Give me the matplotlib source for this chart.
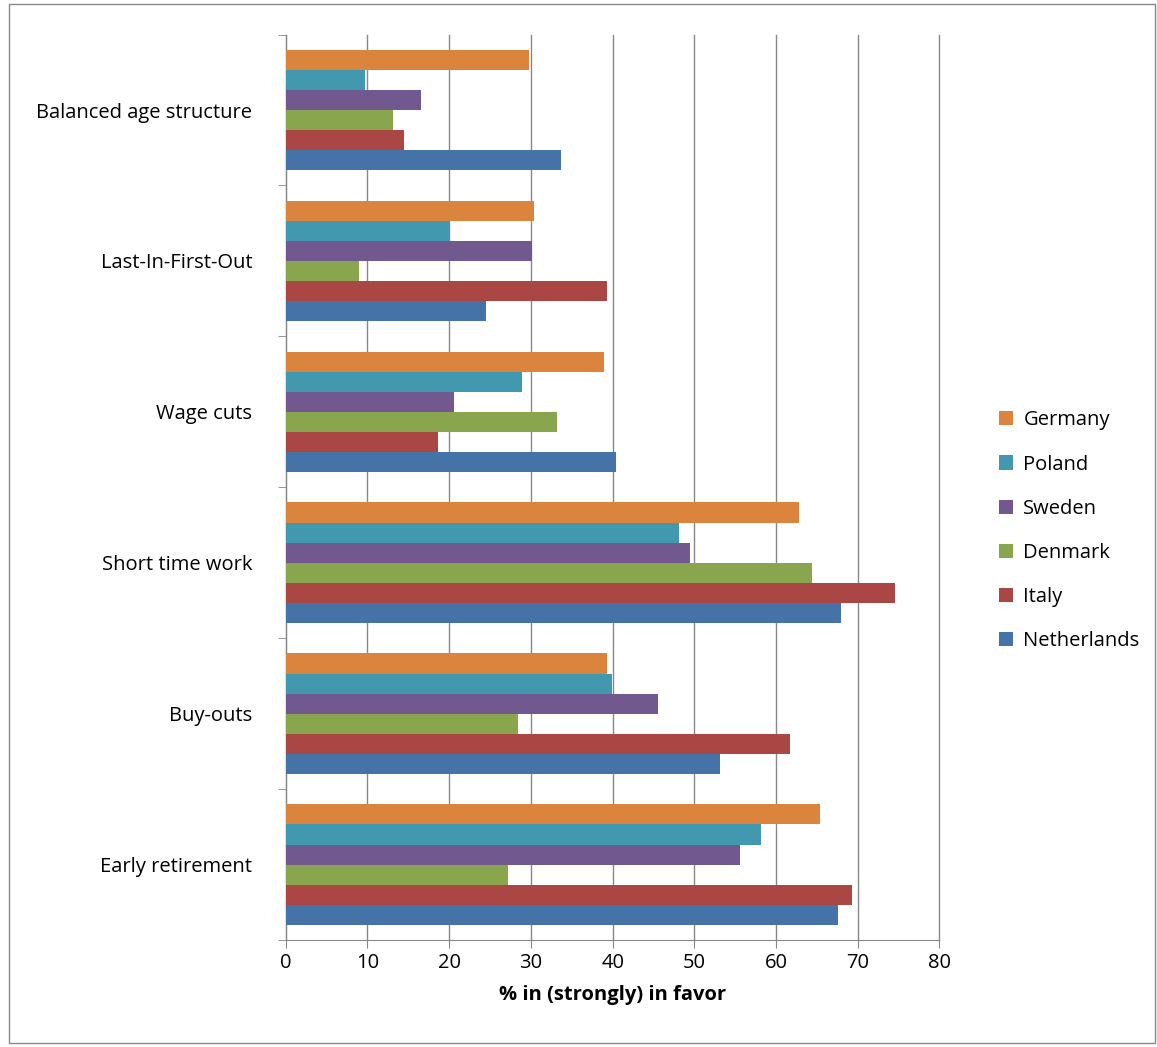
import matplotlib
matplotlib.use("Agg")
import matplotlib.pyplot as plt
import numpy as np
from matplotlib.patches import Rectangle

categories = ["Early retirement", "Buy-outs", "Short time work", "Wage cuts", "Last-In-First-Out", "Balanced age structure"]
series = ["Netherlands", "Italy", "Denmark", "Sweden", "Poland", "Germany"]
colors = ["#4572A7", "#AA4643", "#89A54E", "#71588F", "#4198AF", "#DB843D"]
values = {
    "Netherlands": [67.6, 53.2, 67.9, 40.4, 24.5, 33.7],
    "Italy":       [69.3, 61.7, 74.5, 18.6, 39.3, 14.5],
    "Denmark":     [27.2, 28.4, 64.4, 33.2, 8.9, 13.1],
    "Sweden":      [55.6, 45.5, 49.5, 20.6, 30.1, 16.5],
    "Poland":      [58.2, 39.9, 48.1, 28.9, 20.1, 9.7],
    "Germany":     [65.4, 39.3, 62.8, 39.0, 30.4, 29.8],
}

plt.rcParams['font.family'] = ['Open Sans', 'DejaVu Sans']
fig = plt.figure(figsize=(11.57, 10.47), dpi=100)
fig.patches.append(Rectangle((0.008, 0.004), 0.99, 0.992, transform=fig.transFigure,
                             fill=False, edgecolor="#888888", lw=1))
ax = fig.add_axes([0.247, 0.102, 0.565, 0.865])
y = np.arange(len(categories))
h = 0.8 / 6
for i, s in enumerate(series):
    ax.barh(y - 0.4 + h * (i + 0.5), values[s], height=h, color=colors[i], label=s, zorder=3)
ax.set_xlim(0, 80)
ax.set_ylim(-0.5, len(categories) - 0.5)
ax.set_xticks(range(0, 81, 10))
ax.set_yticks(y)
ax.set_yticklabels(categories)
ax.set_yticks(np.arange(-0.5, len(categories), 1), minor=True)
ax.tick_params(axis="y", which="major", length=0, pad=24, labelsize=14.5)
ax.tick_params(axis="y", which="minor", length=6, color="#888888")
ax.tick_params(axis="x", length=6, color="#888888", labelsize=14.5)
ax.grid(axis="x", color="#888888", lw=1, zorder=0)
for gl in ax.get_xgridlines():
    gl.set_clip_on(False)
for sp in ["top", "right"]:
    ax.spines[sp].set_visible(False)
ax.spines["left"].set_color("#888888")
ax.spines["bottom"].set_color("#888888")
ax.set_xlabel("% in (strongly) in favor", fontsize=14.5, fontweight="bold", labelpad=8)
hnd, lab = ax.get_legend_handles_labels()
fig.legend(hnd[::-1], lab[::-1], loc="center left", bbox_to_anchor=(0.848, 0.493),
           frameon=False, fontsize=14.5, handlelength=0.7, handleheight=0.7,
           labelspacing=1.2, handletextpad=0.5)
fig.savefig("out.png")
